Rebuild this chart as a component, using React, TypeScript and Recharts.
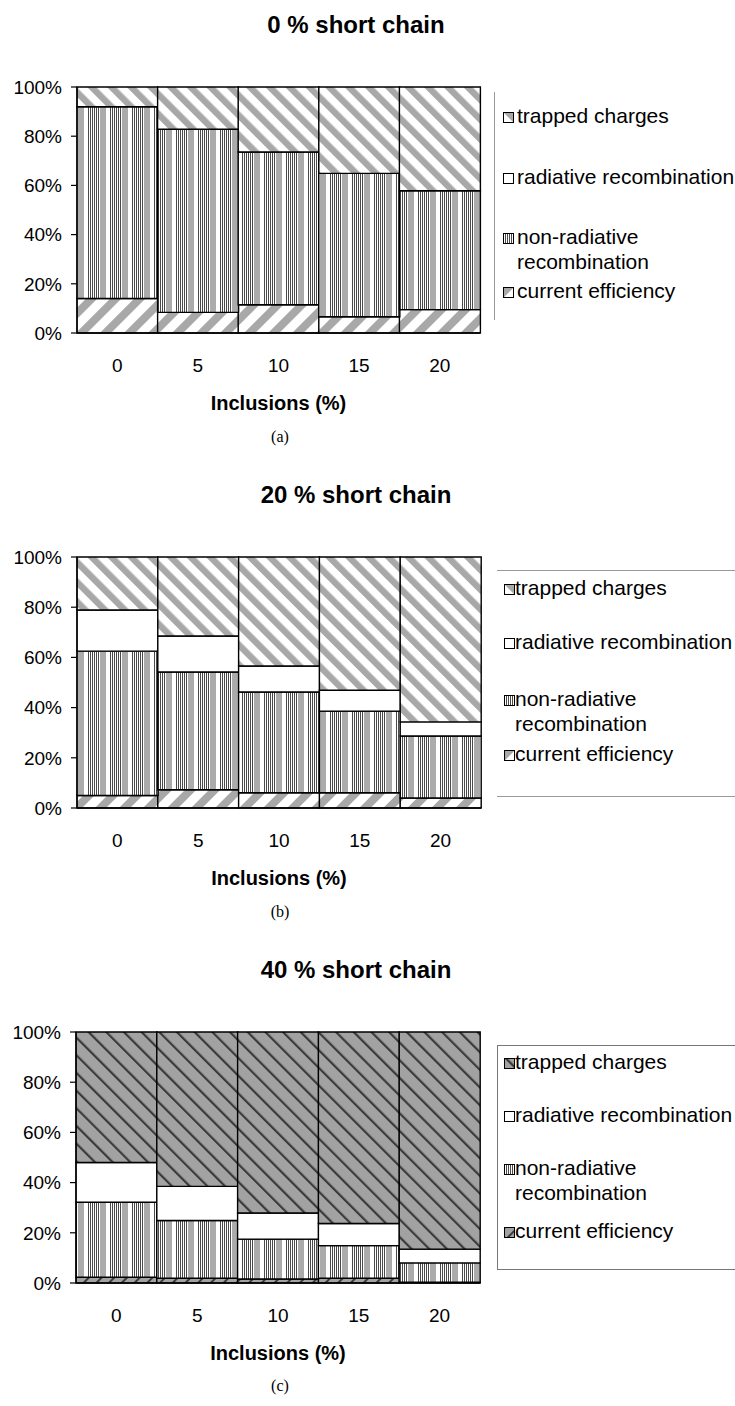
import React from 'react';
import { BarChart, Bar, XAxis, YAxis, Legend } from 'recharts';

// ---------- data ----------
const inclusions = ['0', '5', '10', '15', '20'];
const percentTicks = [0, 20, 40, 60, 80, 100];
const edgeTicks = [0, 1, 2, 3, 4, 5];

// (a) 0 % short chain  (segment heights, % of total)
const currentA = [14.0, 8.4, 11.5, 6.6, 9.5];
const nonRadA = [78.0, 74.4, 62.1, 58.3, 48.3];
const radA = [0, 0, 0, 0, 0];
const trappedA = [8.0, 17.2, 26.4, 35.1, 42.2];

// (b) 20 % short chain
const currentB = [5.0, 7.3, 6.1, 6.1, 4.0];
const nonRadB = [57.5, 46.9, 40.1, 32.5, 24.7];
const radB = [16.4, 14.3, 10.4, 8.3, 5.6];
const trappedB = [21.1, 31.5, 43.4, 53.1, 65.7];

// (c) 40 % short chain
const currentC = [2.3, 1.9, 1.6, 1.9, 0.3];
const nonRadC = [29.9, 23.0, 15.9, 13.0, 7.7];
const radC = [15.8, 13.6, 10.4, 8.8, 5.5];
const trappedC = [52.0, 61.5, 72.1, 76.3, 86.5];

const titles = ['0 % short chain', '20 % short chain', '40 % short chain'];
const captions = ['(a)', '(b)', '(c)'];
const xTitle = 'Inclusions (%)';
const seriesLabels: Record<string, string[]> = {
  tr: ['trapped charges'],
  rad: ['radiative recombination'],
  nr: ['non-radiative', 'recombination'],
  ce: ['current efficiency'],
};

const makeRows = (ce: number[], nr: number[], rad: number[], tr: number[]) =>
  inclusions.map((inc, i) => ({ inclusion: inc, ce: ce[i], nr: nr[i], rad: rad[i], tr: tr[i] }));

const rowsA = makeRows(currentA, nonRadA, radA, trappedA);
const rowsB = makeRows(currentB, nonRadB, radB, trappedB);
const rowsC = makeRows(currentC, nonRadC, radC, trappedC);

// ---------- styling ----------
const FONT = '"Liberation Sans", Arial, Helvetica, sans-serif';
const GRAY = '#a8a8a8';
const BOTTOM = 125;

function Patterns({ s, dark }: { s: string; dark: boolean }) {
  return (
    <defs>
      {dark ? (
        <>
          <pattern id={`tr${s}`} patternUnits="userSpaceOnUse" width={12.5} height={12.5} patternTransform="rotate(-45)">
            <rect width={12.5} height={12.5} fill="#a2a2a2" />
            <rect x={0} width={2.2} height={12.5} fill="#3a3a3a" />
          </pattern>
          <pattern id={`ce${s}`} patternUnits="userSpaceOnUse" width={9} height={9} patternTransform="rotate(45)">
            <rect width={9} height={9} fill="#a2a2a2" />
            <rect x={0} width={2} height={9} fill="#3a3a3a" />
          </pattern>
        </>
      ) : (
        <>
          <pattern id={`tr${s}`} patternUnits="userSpaceOnUse" width={14} height={14} patternTransform="rotate(-45)">
            <rect width={14} height={14} fill="#fff" />
            <rect x={0} width={6.5} height={14} fill={GRAY} />
          </pattern>
          <pattern id={`ce${s}`} patternUnits="userSpaceOnUse" width={17} height={17} patternTransform="rotate(45)">
            <rect width={17} height={17} fill="#fff" />
            <rect x={0} width={8} height={17} fill={GRAY} />
          </pattern>
        </>
      )}
      <pattern id={`nr${s}`} patternUnits="userSpaceOnUse" width={22} height={10}>
        <rect width={22} height={10} fill="#fff" />
        {[0, 2, 4, 6, 8, 10].map((x) => (
          <rect key={x} x={x} width={1} height={10} fill="#4a4a4a" />
        ))}
        <rect x={12} width={6} height={10} fill="#ababab" />
      </pattern>
    </defs>
  );
}

type LegendItem = { key: string; y: number };

function LegendBox({ s, items, swatchX, textX }: { s: string; items: LegendItem[]; swatchX: number; textX: number }) {
  return (
    <div style={{ position: 'relative', width: '100%', height: '100%', fontFamily: FONT, fontSize: 21, color: '#000' }}>
      {items.map((it) => (
        <React.Fragment key={it.key}>
          <svg style={{ position: 'absolute', left: swatchX, top: it.y - 5 }} width={11} height={11}>
            <rect
              x={0.5}
              y={0.5}
              width={10}
              height={10}
              fill={it.key === 'rad' ? '#fff' : `url(#${it.key}${s})`}
              stroke="#000"
              strokeWidth={1}
            />
          </svg>
          {seriesLabels[it.key].map((ln, j) => (
            <div
              key={j}
              style={{ position: 'absolute', left: textX, top: it.y + j * 25 - 13, lineHeight: '24px', whiteSpace: 'nowrap' }}
            >
              {ln}
            </div>
          ))}
        </React.Fragment>
      ))}
    </div>
  );
}

type PanelProps = {
  s: string;
  rows: ReturnType<typeof makeRows>;
  dark: boolean;
  chartTop: number;
  plotTop: number;
  plotBottom: number;
  plotLeft: number;
  plotRight: number;
  legendStyle: React.CSSProperties;
  legendItems: LegendItem[];
  swatchX: number;
  textX: number;
};

function Panel(p: PanelProps) {
  // two x axes of height 1 each sit below the plot
  const height = p.plotBottom - p.chartTop + 2 + BOTTOM;
  const stroke = '#000';
  const sw = 1.4;
  return (
    <div style={{ position: 'absolute', left: 0, top: p.chartTop, width: 735, height }}>
      <BarChart
        width={735}
        height={height}
        data={p.rows}
        margin={{ top: p.plotTop - p.chartTop, right: 735 - p.plotRight, bottom: BOTTOM, left: 0 }}
        barCategoryGap={0}
        barGap={0}
      >
        <Patterns s={p.s} dark={p.dark} />
        <XAxis
          xAxisId="cat"
          dataKey="inclusion"
          height={1}
          tickSize={0}
          tickMargin={26}
          tickLine={false}
          interval={0}
          axisLine={{ stroke: '#000', strokeWidth: 1.3 }}
          tick={{ fill: '#000', fontSize: 19, fontFamily: FONT }}
          label={{
            value: xTitle,
            position: 'bottom',
            offset: 62,
            fill: '#000',
            fontSize: 20,
            fontWeight: 'bold',
            fontFamily: FONT,
          }}
        />
        <XAxis
          xAxisId="edge"
          type="number"
          domain={[0, 5]}
          ticks={edgeTicks}
          allowDataOverflow
          height={1}
          tick={false}
          tickSize={7}
          tickLine={{ stroke: '#000', strokeWidth: 1.2 }}
          axisLine={false}
        />
        <YAxis
          width={p.plotLeft}
          domain={[0, 100]}
          ticks={percentTicks}
          interval={0}
          tickFormatter={(v: number) => `${v}%`}
          tickSize={6}
          tickMargin={9}
          axisLine={{ stroke: '#000', strokeWidth: 1.3 }}
          tickLine={{ stroke: '#000', strokeWidth: 1.2 }}
          tick={{ fill: '#000', fontSize: 19, fontFamily: FONT }}
        />
        <Bar xAxisId="cat" dataKey="ce" name="current efficiency" stackId="s" fill={`url(#ce${p.s})`} stroke={stroke} strokeWidth={sw} isAnimationActive={false} />
        <Bar xAxisId="cat" dataKey="nr" name="non-radiative recombination" stackId="s" fill={`url(#nr${p.s})`} stroke={stroke} strokeWidth={sw} isAnimationActive={false} />
        <Bar xAxisId="cat" dataKey="rad" name="radiative recombination" stackId="s" fill="#fff" stroke={stroke} strokeWidth={sw} isAnimationActive={false} />
        <Bar xAxisId="cat" dataKey="tr" name="trapped charges" stackId="s" fill={`url(#tr${p.s})`} stroke={stroke} strokeWidth={sw} isAnimationActive={false} />
        <Legend
          layout="vertical"
          align="center"
          verticalAlign="middle"
          wrapperStyle={{ position: 'absolute', margin: 0, ...p.legendStyle }}
          content={() => <LegendBox s={p.s} items={p.legendItems} swatchX={p.swatchX} textX={p.textX} />}
        />
      </BarChart>
    </div>
  );
}

const titleTops = [13, 483, 958];
const captionCenters = [437, 912, 1386];

export default function App() {
  return (
    <div style={{ position: 'absolute', left: 0, top: 0, width: 735, height: 1406, overflow: 'hidden', background: '#fff' }}>
      {titles.map((t, i) => (
        <div
          key={t}
          style={{
            position: 'absolute',
            left: 0,
            width: 712,
            top: titleTops[i],
            textAlign: 'center',
            fontFamily: FONT,
            fontWeight: 'bold',
            fontSize: 24,
            lineHeight: '24px',
            whiteSpace: 'nowrap',
          }}
        >
          {t}
        </div>
      ))}
      <Panel
        s="a"
        rows={rowsA}
        dark={false}
        chartTop={0}
        plotTop={87}
        plotBottom={333}
        plotLeft={77}
        plotRight={480}
        legendStyle={{ left: 494, top: 92, width: 241, height: 228, borderLeft: '1.5px solid #9a9a9a' }}
        legendItems={[
          { key: 'tr', y: 25 },
          { key: 'rad', y: 86 },
          { key: 'nr', y: 146 },
          { key: 'ce', y: 200 },
        ]}
        swatchX={8}
        textX={22}
      />
      <Panel
        s="b"
        rows={rowsB}
        dark={false}
        chartTop={470}
        plotTop={557}
        plotBottom={808}
        plotLeft={77}
        plotRight={481}
        legendStyle={{ left: 497, top: 100, width: 238, height: 225, borderTop: '1.5px solid #9a9a9a', borderBottom: '1.5px solid #9a9a9a' }}
        legendItems={[
          { key: 'tr', y: 18 },
          { key: 'rad', y: 72 },
          { key: 'nr', y: 129 },
          { key: 'ce', y: 184 },
        ]}
        swatchX={7}
        textX={18}
      />
      <Panel
        s="c"
        rows={rowsC}
        dark={true}
        chartTop={945}
        plotTop={1032}
        plotBottom={1283}
        plotLeft={76}
        plotRight={480}
        legendStyle={{ left: 497, top: 100, width: 250, height: 223, border: '1.5px solid #777' }}
        legendItems={[
          { key: 'tr', y: 17 },
          { key: 'rad', y: 70 },
          { key: 'nr', y: 123 },
          { key: 'ce', y: 186 },
        ]}
        swatchX={6}
        textX={17}
      />
      {captions.map((c, i) => (
        <div
          key={c}
          style={{
            position: 'absolute',
            left: 230,
            width: 100,
            top: captionCenters[i] - 9,
            textAlign: 'center',
            fontFamily: '"Liberation Serif", "Times New Roman", serif',
            fontSize: 16,
            lineHeight: '18px',
          }}
        >
          {c}
        </div>
      ))}
    </div>
  );
}
